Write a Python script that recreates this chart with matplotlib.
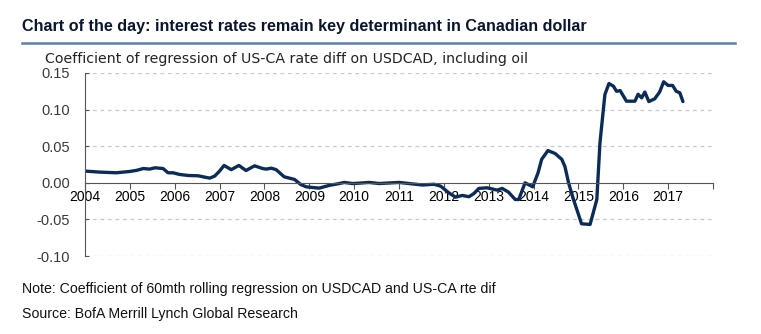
import matplotlib.pyplot as plt
from matplotlib.lines import Line2D

# coefficient of rolling regression
years = [2004.0, 2004.33, 2004.7, 2005.0, 2005.15, 2005.3, 2005.44, 2005.56, 2005.74, 2005.85,
         2005.96, 2006.11, 2006.3, 2006.52, 2006.67, 2006.78, 2006.89, 2007.0, 2007.1, 2007.26,
         2007.43, 2007.59, 2007.78, 2007.96, 2008.04, 2008.15, 2008.26, 2008.44, 2008.67, 2008.81,
         2008.93, 2009.22, 2009.44, 2009.67, 2009.78, 2009.96, 2010.11, 2010.33, 2010.56, 2011.0,
         2011.52, 2011.78, 2011.93, 2012.11, 2012.26, 2012.41, 2012.56, 2012.67, 2012.78, 2012.96,
         2013.19, 2013.3, 2013.44, 2013.59, 2013.67, 2013.81, 2013.98, 2014.1, 2014.18, 2014.32,
         2014.48, 2014.63, 2014.7, 2014.78, 2014.89, 2015.07, 2015.26, 2015.41, 2015.48, 2015.59,
         2015.68, 2015.78, 2015.85, 2015.93, 2016.07, 2016.26, 2016.33, 2016.41, 2016.48, 2016.57,
         2016.70, 2016.81, 2016.9, 2017.0, 2017.1, 2017.18, 2017.26, 2017.33]
coef = [0.016, 0.0146, 0.0137, 0.0155, 0.017, 0.0195, 0.0187, 0.0205, 0.0195, 0.0137,
        0.0137, 0.0114, 0.010, 0.0096, 0.0077, 0.0064, 0.0091, 0.016, 0.0237, 0.018,
        0.0237, 0.0168, 0.0232, 0.0195, 0.0187, 0.020, 0.018, 0.0082, 0.0046, -0.0023,
        -0.0055, -0.0073, -0.0036, -0.001, 0.0005, -0.001, -0.0005, 0.0005, -0.001, 0.0005,
        -0.003, -0.002, -0.0046, -0.0137, -0.0196, -0.0173, -0.019, -0.0146, -0.0077, -0.0068,
        -0.010, -0.0077, -0.0127, -0.0228, -0.0228, 0.0, -0.0055, 0.0137, 0.032, 0.044,
        0.040, 0.032, 0.022, 0.0, -0.0228, -0.056, -0.0569, -0.0228, 0.0546, 0.1206,
        0.1356, 0.132, 0.125, 0.126, 0.1115, 0.1115, 0.121, 0.116, 0.124, 0.111,
        0.1147, 0.124, 0.138, 0.133, 0.133, 0.125, 0.123, 0.111]

year_ticks = list(range(2004, 2019))
year_labels = [str(y) for y in range(2004, 2018)] + ['']
y_ticks = [-0.10, -0.05, 0.00, 0.05, 0.10, 0.15]

plt.rcParams['font.family'] = ['Liberation Sans', 'DejaVu Sans']

fig = plt.figure(figsize=(7.61, 3.34), dpi=100)
ax = fig.add_axes([85/761, 1-256/334, (713-85)/761, (256-73)/334])

ax.plot(years, coef, color='#0c2c58', lw=2.4, solid_capstyle='round', solid_joinstyle='round')

ax.set_xlim(2004, 2018)
ax.set_ylim(-0.10, 0.15)
ax.set_yticks(y_ticks)
ax.set_yticklabels(['%.2f' % v for v in y_ticks], fontsize=10.5, color='#3a3a3a')
ax.set_xticks(year_ticks)
ax.set_xticklabels(year_labels, fontsize=10, color='#3a3a3a')

for v in [-0.10, -0.05, 0.05, 0.10, 0.15]:
    ax.axhline(v, color='#c8c8c8', lw=0.9, ls=(0, (3, 3)), zorder=0)

for s in ['top', 'right']:
    ax.spines[s].set_visible(False)
ax.spines['bottom'].set_position(('data', 0))
ax.spines['bottom'].set_color('#555555')
ax.spines['left'].set_color('#555555')
ax.tick_params(axis='x', direction='out', length=4, color='#555555', pad=1)
ax.tick_params(axis='y', direction='in', length=3, color='#555555', pad=11)

fig.text(22/761, 1-27/334, 'Chart of the day: interest rates remain key determinant in Canadian dollar',
         fontsize=11.6, fontweight='bold', color='#0a1530', va='center', ha='left')
fig.add_artist(Line2D([22/761, 735/761], [1-43/334, 1-43/334], color='#5b7db1', lw=1.8))
fig.text(45/761, 1-59/334, 'Coefficient of regression of US-CA rate diff on USDCAD, including oil',
         fontsize=10.2, family='DejaVu Sans', color='#222222', va='center', ha='left')
fig.text(22/761, 1-289/334, 'Note: Coefficient of 60mth rolling regression on USDCAD and US-CA rte dif',
         fontsize=10.2, color='#111111', va='center', ha='left')
fig.text(22/761, 1-314/334, 'Source: BofA Merrill Lynch Global Research',
         fontsize=10.2, color='#111111', va='center', ha='left')

fig.savefig('out.png', dpi=100)
